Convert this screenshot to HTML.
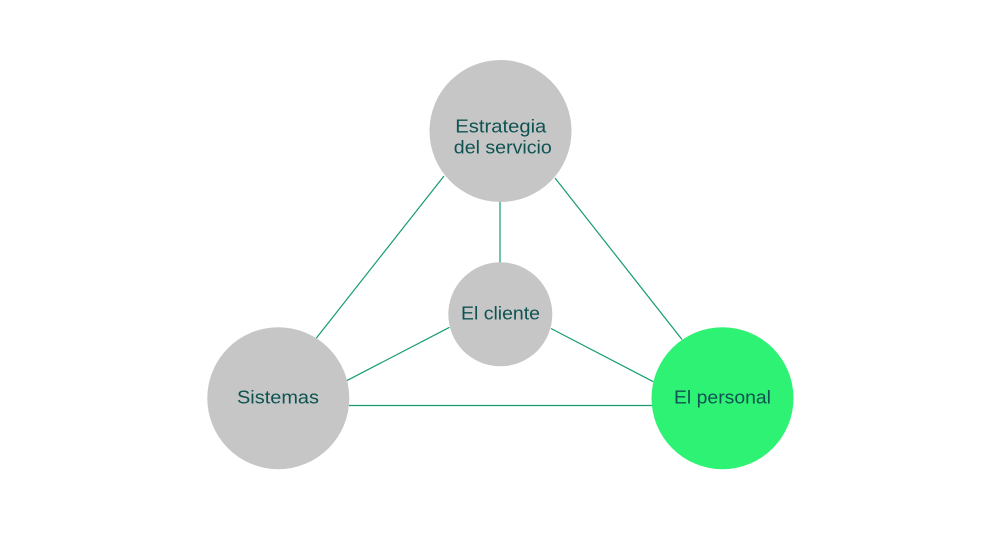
<!DOCTYPE html>
<html><head><meta charset="utf-8"><style>
html,body{margin:0;padding:0;background:#fff;}
svg{display:block;}
text{font-family:"Liberation Sans",sans-serif;font-size:18px;fill:#0e5352;}
</style></head><body>
<svg width="1000" height="549" viewBox="0 0 1000 549" xmlns="http://www.w3.org/2000/svg">
<g stroke="#159c6e" stroke-width="1.2" fill="none">
<line x1="444" y1="176" x2="316" y2="338.5"/>
<line x1="555" y1="178" x2="682" y2="339.5"/>
<line x1="500" y1="201" x2="500" y2="263"/>
<line x1="449.5" y1="327.3" x2="346.7" y2="380.7"/>
<line x1="551" y1="328.5" x2="653.3" y2="381.7"/>
<line x1="349" y1="405.5" x2="652" y2="405.5"/>
</g>
<circle cx="500.5" cy="131" r="71" fill="#c6c6c6"/>
<circle cx="500.3" cy="314.3" r="52" fill="#c6c6c6"/>
<circle cx="278.3" cy="398.2" r="71" fill="#c6c6c6"/>
<circle cx="722.5" cy="398.2" r="71" fill="#2ef274"/>
<text x="500.8" y="132.3" text-anchor="middle" textLength="91" lengthAdjust="spacingAndGlyphs">Estrategia</text>
<text x="502.8" y="153.3" text-anchor="middle" textLength="98" lengthAdjust="spacingAndGlyphs">del servicio</text>
<text x="500.5" y="319.3" text-anchor="middle" textLength="79" lengthAdjust="spacingAndGlyphs">El cliente</text>
<text x="278" y="403.3" text-anchor="middle" textLength="82" lengthAdjust="spacingAndGlyphs">Sistemas</text>
<text x="722.5" y="403.3" text-anchor="middle" textLength="97" lengthAdjust="spacingAndGlyphs">El personal</text>
</svg>
</body></html>
